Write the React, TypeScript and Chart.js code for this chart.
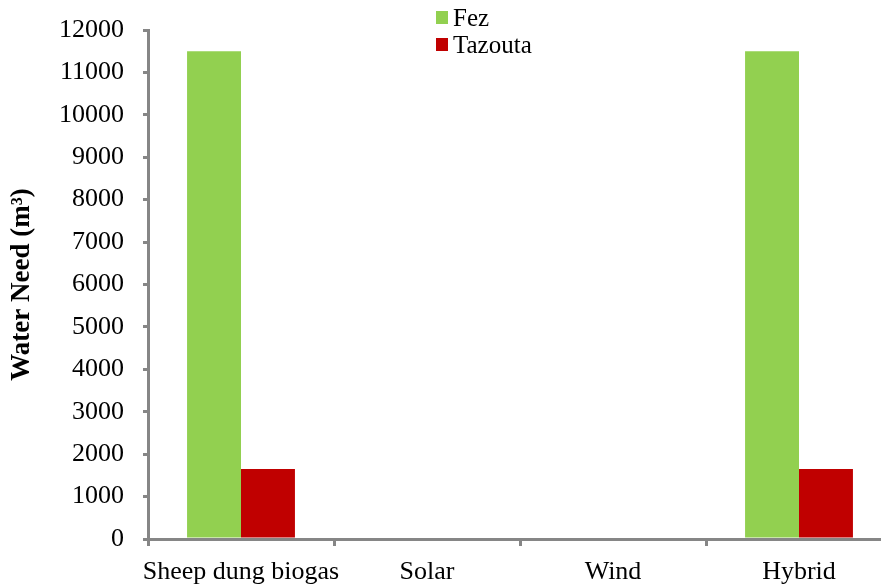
import React, { useEffect, useRef } from "react";
import { Chart, registerables } from "chart.js";

Chart.register(...registerables);

const categories = ["Sheep dung biogas", "Solar", "Wind", "Hybrid"];
const fezValues = [11500, 0, 0, 11500];
const tazoutaValues = [1650, 0, 0, 1650];
const seriesNames = ["Fez", "Tazouta"];
const seriesColors = ["#92D050", "#C00000"];
const yMax = 12000;
const yStep = 1000;
const yTitle = "Water Need (m³)";

const FONT = "'Liberation Serif', 'Times New Roman', serif";
const AXIS = "#868686";

export default function App() {
  const ref = useRef<HTMLCanvasElement | null>(null);

  useEffect(() => {
    if (!ref.current) return;
    const chart = new Chart(ref.current, {
      type: "bar",
      data: {
        labels: categories,
        datasets: [
          { label: seriesNames[0], data: fezValues, backgroundColor: seriesColors[0], borderWidth: 0 },
          { label: seriesNames[1], data: tazoutaValues, backgroundColor: seriesColors[1], borderWidth: 0 },
        ],
      },
      options: {
        animation: false,
        responsive: false,
        maintainAspectRatio: false,
        layout: { padding: { top: 30, right: 0, left: 0, bottom: 0 } },
        plugins: { legend: { display: false }, tooltip: { enabled: false } },
        datasets: { bar: { categoryPercentage: 0.58, barPercentage: 1 } },
        scales: {
          x: {
            offset: true,
            grid: {
              offset: true,
              drawOnChartArea: false,
              drawTicks: true,
              tickLength: 7,
              color: AXIS,
              tickColor: AXIS,
              lineWidth: 3,
              tickWidth: 3,
            },
            border: { display: true, color: AXIS, width: 3 },
            ticks: { color: "#000", font: { family: FONT, size: 26 }, padding: 11, maxRotation: 0, autoSkip: false },
            afterFit: (s: any) => {
              s.height = 49;
            },
          },
          y: {
            min: 0,
            max: yMax,
            grid: {
              drawOnChartArea: false,
              drawTicks: true,
              tickLength: 5,
              color: AXIS,
              tickColor: AXIS,
              lineWidth: 3,
              tickWidth: 3,
            },
            border: { display: true, color: AXIS, width: 3 },
            ticks: {
              stepSize: yStep,
              color: "#000",
              font: { family: FONT, size: 26, lineHeight: 0.8 },
              padding: 19,
              callback: (v: any) => String(v),
            },
            title: {
              display: true,
              text: yTitle,
              color: "#000",
              font: { family: FONT, size: 27, weight: "bold" },
              padding: { top: 6, bottom: 4 },
            },
            afterFit: (s: any) => {
              s.width = 148;
            },
          },
        },
      },
    });
    return () => chart.destroy();
  }, []);

  return (
    <div style={{ position: "fixed", left: 0, top: 0, width: 881, height: 588, overflow: "hidden", background: "#fff" }}>
      <canvas ref={ref} width={892} height={588} style={{ position: "absolute", left: 0, top: 0 }} />
      <div style={{ position: "absolute", left: 436, top: 4, fontFamily: FONT, fontSize: 25, color: "#000", lineHeight: "27px" }}>
        {seriesNames.map((n, i) => (
          <div key={n} style={{ display: "flex", alignItems: "center", height: 27 }}>
            <span style={{ display: "inline-block", width: 12, height: 13, background: seriesColors[i], marginRight: 5 }} />
            <span>{n}</span>
          </div>
        ))}
      </div>
    </div>
  );
}
